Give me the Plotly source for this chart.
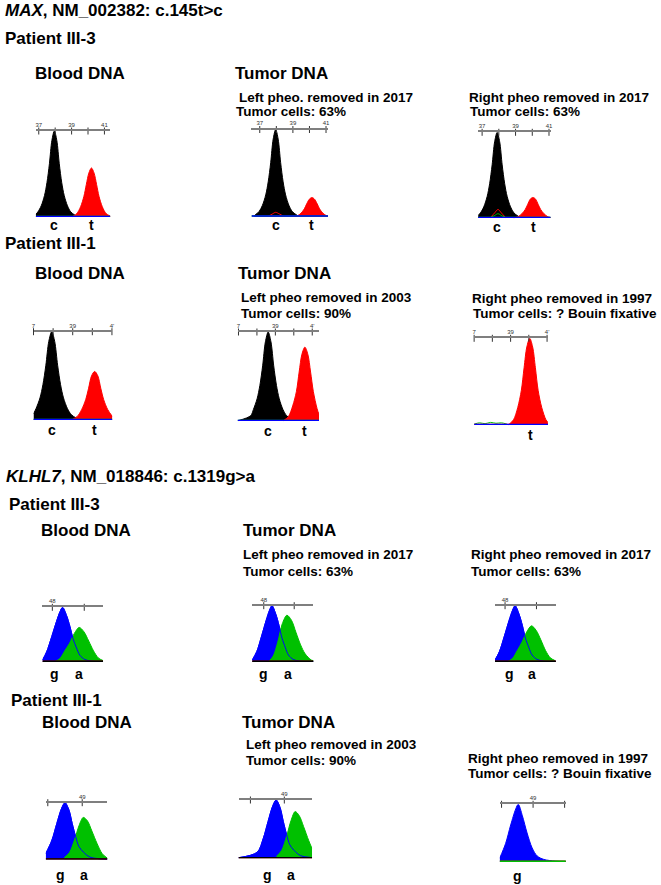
import plotly.graph_objects as go

W, H = 661, 885
FONT = "Liberation Sans, Arial, sans-serif"
BLACK, RED, BLUE, GREEN = "#000000", "#ff0000", "#0000ff", "#00c000"
BASE_LEVEL = 0.8

# ---------------- MAX, NM_002382: c.145t>c ----------------
MAX_TICKS = [37, 38, 39, 40, 41]
MAX_TICKTEXT = ["37", "", "39", "", "41"]
MAX_TICKTEXT_CUT = ["7", "", "39", "", "4'"]
MAX_CALLS = ["c", "t"]

# patient III-3, blood
M1_BLACK_X = [36.82, 36.95, 37.15, 37.35, 37.5, 37.65, 37.8, 37.95, 38.1, 38.25, 38.4, 38.55, 38.75, 38.95, 39.25]
M1_BLACK_Y = [3, 6, 13, 25, 40, 62, 89, 100, 89, 62, 40, 25, 13, 6, 1.5]
M1_RED_X = [39.06, 39.32, 39.55, 39.75, 39.9, 40.05, 40.21, 40.37, 40.52, 40.67, 40.87, 41.1, 41.36]
M1_RED_Y = [0.5, 4, 12, 24, 38, 51, 57, 51, 38, 24, 12, 4, 1]
M1_CALL_X = [37.95, 40.21]

# patient III-3, left pheo 2017
M2_BLACK_X = [36.66, 36.96, 37.16, 37.36, 37.51, 37.66, 37.81, 37.96, 38.11, 38.26, 38.41, 38.56, 38.76, 38.96, 39.26]
M2_BLACK_Y = [1, 6, 13, 25, 40, 62, 89, 100, 89, 62, 40, 25, 13, 6, 1.5]
M2_RED_X = [39.0, 39.26, 39.49, 39.69, 39.84, 39.99, 40.15, 40.31, 40.46, 40.61, 40.81, 41.04, 41.12]
M2_RED_Y = [0.3, 1, 4, 9, 15, 20, 22, 20, 15, 9, 4, 1, 0.5]
M2_RED_BUMP_X = [37.5, 37.75, 37.96, 38.2, 38.45]
M2_RED_BUMP_Y = [0.5, 3, 5, 3, 0.5]
M2_CALL_X = [37.96, 40.15]

# patient III-3, right pheo 2017
M3_BLACK_X = [36.76, 36.9, 37.1, 37.3, 37.45, 37.6, 37.75, 37.9, 38.05, 38.2, 38.35, 38.5, 38.7, 38.9, 39.2]
M3_BLACK_Y = [3, 6, 13, 25, 40, 62, 89, 100, 89, 62, 40, 25, 13, 6, 1.5]
M3_RED_X = [38.89, 39.15, 39.38, 39.58, 39.73, 39.88, 40.04, 40.2, 40.35, 40.5, 40.7, 40.93, 41.1]
M3_RED_Y = [0.3, 1.5, 5, 10, 16, 22, 24, 22, 16, 10, 5, 1.5, 0.5]
M3_RED_BUMP_X = [37.5, 37.75, 37.95, 38.15, 38.4]
M3_RED_BUMP_Y = [0.5, 6, 10, 6, 0.5]
M3_GREEN_BUMP_Y = [0.5, 3, 5, 3, 0.5]
M3_CALL_X = [37.9, 40.1]

# patient III-1, blood
M4_BLACK_X = [37.0, 37.13, 37.33, 37.48, 37.63, 37.78, 37.93, 38.08, 38.23, 38.38, 38.53, 38.73, 38.93, 39.23]
M4_BLACK_Y = [7, 13, 25, 40, 62, 89, 100, 89, 62, 40, 25, 13, 6, 1.5]
M4_RED_X = [38.97, 39.23, 39.46, 39.66, 39.81, 39.96, 40.12, 40.28, 40.43, 40.58, 40.78, 41.02]
M4_RED_Y = [0.5, 4, 12, 23, 36, 50, 55, 50, 36, 23, 12, 4]
M4_CALL_X = [37.93, 40.1]

# patient III-1, left pheo 2003
M5_BLACK_X = [37.0, 37.66, 37.81, 38.01, 38.16, 38.31, 38.46, 38.61, 38.76, 38.91, 39.06, 39.21, 39.41, 39.61, 39.91]
M5_BLACK_Y = [0.5, 6, 13, 25, 40, 62, 89, 100, 89, 62, 40, 25, 13, 6, 1.5]
M5_RED_X = [39.45, 39.71, 39.94, 40.14, 40.29, 40.44, 40.6, 40.76, 40.91, 41.06, 41.26, 41.37]
M5_RED_Y = [0.5, 5, 17, 33, 55, 75, 83, 75, 55, 33, 14, 7]
M5_CALL_X = [38.6, 40.6]

# patient III-1, right pheo 1997 (Bouin)
M6_RED_X = [38.9, 39.16, 39.39, 39.59, 39.74, 39.89, 40.05, 40.21, 40.36, 40.51, 40.71, 40.94, 41.05]
M6_RED_Y = [0.5, 6, 20, 40, 66, 90, 100, 90, 66, 40, 20, 6, 3]
M6_NOISE_X = [37.0, 37.3, 37.6, 37.9, 38.2, 38.5, 38.8]
M6_NOISE_Y = [1, 2.5, 1.5, 3, 2, 2.5, 1]
M6_CALL_X = [40.1]

# ---------------- KLHL7, NM_018846: c.1319g>a ----------------
KLHL_TICKS_A = [48, 49]
KLHL_TICKTEXT_A = ["48", ""]
KLHL_TICKS_B = [48, 49, 50]
KLHL_TICKTEXT_B = ["", "49", ""]
KLHL_CALLS = ["g", "a"]

# patient III-3, blood
K1_BLUE_X = [47.69, 47.82, 47.98, 48.13, 48.24, 48.32, 48.445, 48.55, 48.65, 48.76, 48.86, 49.02, 49.23, 49.59]
K1_BLUE_Y = [3, 18, 46, 74, 92, 100, 85, 65, 42, 25, 12, 4, 1, 0.5]
K1_GREEN_X = [48.09, 48.24, 48.39, 48.54, 48.69, 48.84, 48.99, 49.14, 49.29, 49.44, 49.59]
K1_GREEN_Y = [0.5, 6, 20, 34, 52, 63, 55, 38, 20, 7, 2]
K1_CALL_X = [48.08, 48.83]

# patient III-3, left pheo 2017
K2_BLUE_X = [47.62, 47.77, 47.93, 48.08, 48.19, 48.27, 48.395, 48.5, 48.6, 48.71, 48.81, 48.97, 49.18, 49.63]
K2_BLUE_Y = [3, 18, 46, 74, 92, 100, 85, 65, 42, 25, 12, 4, 1, 0.5]
K2_GREEN_X = [48.16, 48.31, 48.46, 48.61, 48.76, 48.91, 49.06, 49.21, 49.36, 49.56, 49.63]
K2_GREEN_Y = [0.5, 10, 35, 68, 83, 74, 52, 30, 14, 3, 2]
K2_CALL_X = [48.0, 48.8]

# patient III-3, right pheo 2017
K3_BLUE_X = [47.68, 47.82, 47.98, 48.13, 48.24, 48.32, 48.445, 48.55, 48.65, 48.76, 48.86, 49.02, 49.23, 49.62]
K3_BLUE_Y = [3, 18, 46, 74, 92, 100, 85, 65, 42, 25, 12, 4, 1, 0.5]
K3_GREEN_X = [48.09, 48.24, 48.39, 48.54, 48.69, 48.84, 48.99, 49.14, 49.29, 49.44, 49.59]
K3_GREEN_Y = [0.5, 6, 20, 35, 53, 64, 56, 39, 20, 7, 2]
K3_CALL_X = [48.15, 48.86]

# patient III-1, blood
K4_BLUE_X = [47.94, 48.12, 48.26, 48.4, 48.5, 48.615, 48.71, 48.81, 48.9, 49.03, 49.22, 49.5, 49.73]
K4_BLUE_Y = [10, 34, 63, 90, 100, 87, 63, 40, 23, 13, 4, 1, 0.5]
K4_GREEN_X = [48.48, 48.63, 48.78, 48.91, 49.03, 49.15, 49.28, 49.43, 49.58, 49.73]
K4_GREEN_Y = [3, 12, 35, 60, 74, 68, 50, 28, 10, 2]
K4_CALL_X = [48.37, 49.04]

# patient III-1, left pheo 2003
K5_BLUE_X = [47.65, 48.2, 48.38, 48.52, 48.66, 48.76, 48.875, 48.97, 49.07, 49.16, 49.29, 49.48, 49.76]
K5_BLUE_Y = [0.5, 10, 34, 63, 90, 100, 87, 63, 40, 23, 13, 4, 1]
K5_GREEN_X = [48.77, 48.92, 49.07, 49.2, 49.32, 49.44, 49.57, 49.72, 49.82]
K5_GREEN_Y = [3, 13, 38, 65, 80, 73, 54, 30, 16]
K5_CALL_X = [48.5, 49.2]

# patient III-1, right pheo 1997 (Bouin)
K6_BLUE_X = [47.94, 48.13, 48.29, 48.45, 48.53, 48.66, 48.81, 48.97, 49.13, 49.34, 49.71, 50.04]
K6_BLUE_Y = [6, 32, 64, 92, 100, 80, 50, 24, 10, 4, 1, 0.5]
K6_CALL_X = [48.52]

# ---------------- panel layout (pixel boxes: left, right, axis line y, baseline y) ----------------
PANELS = [
    dict(box=(34, 109, 131, 217), xr=(36.82, 41.36), ticks=MAX_TICKS, tt=MAX_TICKTEXT,
         fills=[(M1_BLACK_X, M1_BLACK_Y, BLACK), (M1_RED_X, M1_RED_Y, RED)], lines=[],
         calls=MAX_CALLS, call_x=M1_CALL_X, call_y=225, base=[GREEN, BLUE]),
    dict(box=(251, 328, 129.5, 216.7), xr=(36.5, 41.12), ticks=MAX_TICKS, tt=MAX_TICKTEXT,
         fills=[(M2_BLACK_X, M2_BLACK_Y, BLACK), (M2_RED_X, M2_RED_Y, RED)],
         lines=[(M2_RED_BUMP_X, M2_RED_BUMP_Y, RED)],
         calls=MAX_CALLS, call_x=M2_CALL_X, call_y=225, base=[GREEN, BLUE]),
    dict(box=(479, 552, 132.3, 218), xr=(36.76, 41.1), ticks=MAX_TICKS, tt=MAX_TICKTEXT,
         fills=[(M3_BLACK_X, M3_BLACK_Y, BLACK), (M3_RED_X, M3_RED_Y, RED)],
         lines=[(M3_RED_BUMP_X, M3_RED_BUMP_Y, RED), (M3_RED_BUMP_X, M3_GREEN_BUMP_Y, GREEN)],
         calls=MAX_CALLS, call_x=M3_CALL_X, call_y=227, base=[GREEN, BLUE]),
    dict(box=(31.7, 111, 331.7, 420), xr=(37.0, 41.02), ticks=MAX_TICKS, tt=MAX_TICKTEXT_CUT,
         fills=[(M4_BLACK_X, M4_BLACK_Y, BLACK), (M4_RED_X, M4_RED_Y, RED)], lines=[],
         calls=MAX_CALLS, call_x=M4_CALL_X, call_y=430, base=[GREEN, BLUE]),
    dict(box=(237, 319, 332, 421), xr=(36.95, 41.37), ticks=MAX_TICKS, tt=MAX_TICKTEXT_CUT,
         fills=[(M5_BLACK_X, M5_BLACK_Y, BLACK), (M5_RED_X, M5_RED_Y, RED)], lines=[],
         calls=MAX_CALLS, call_x=M5_CALL_X, call_y=431, base=[GREEN, BLUE]),
    dict(box=(475, 549.3, 338.3, 425), xr=(37.0, 41.05), ticks=MAX_TICKS, tt=MAX_TICKTEXT_CUT,
         fills=[(M6_RED_X, M6_RED_Y, RED)],
         lines=[(M6_NOISE_X, M6_NOISE_Y, GREEN)],
         calls=["t"], call_x=M6_CALL_X, call_y=435, base=[RED, BLUE]),
    dict(box=(40.7, 101.7, 607.3, 661.7), xr=(47.69, 49.59), ticks=KLHL_TICKS_A, tt=KLHL_TICKTEXT_A,
         fills=[(K1_BLUE_X, K1_BLUE_Y, BLUE), (K1_GREEN_X, K1_GREEN_Y, GREEN)],
         lines=[(K1_BLUE_X, K1_BLUE_Y, BLUE)],
         calls=KLHL_CALLS, call_x=K1_CALL_X, call_y=674, base=["#b00000", BLACK]),
    dict(box=(251.7, 313.3, 605.7, 661.7), xr=(47.62, 49.63), ticks=KLHL_TICKS_A, tt=KLHL_TICKTEXT_A,
         fills=[(K2_BLUE_X, K2_BLUE_Y, BLUE), (K2_GREEN_X, K2_GREEN_Y, GREEN)],
         lines=[(K2_BLUE_X, K2_BLUE_Y, BLUE)],
         calls=KLHL_CALLS, call_x=K2_CALL_X, call_y=674, base=["#b00000", BLACK]),
    dict(box=(496, 557.3, 605.7, 661.7), xr=(47.68, 49.62), ticks=KLHL_TICKS_A, tt=KLHL_TICKTEXT_A,
         fills=[(K3_BLUE_X, K3_BLUE_Y, BLUE), (K3_GREEN_X, K3_GREEN_Y, GREEN)],
         lines=[(K3_BLUE_X, K3_BLUE_Y, BLUE)],
         calls=KLHL_CALLS, call_x=K3_CALL_X, call_y=674, base=["#b00000", BLACK]),
    dict(box=(44, 106, 802.7, 859.3), xr=(47.94, 49.73), ticks=KLHL_TICKS_B, tt=KLHL_TICKTEXT_B,
         fills=[(K4_BLUE_X, K4_BLUE_Y, BLUE), (K4_GREEN_X, K4_GREEN_Y, GREEN)],
         lines=[(K4_BLUE_X, K4_BLUE_Y, BLUE)],
         calls=KLHL_CALLS, call_x=K4_CALL_X, call_y=875, base=["#b00000", BLACK]),
    dict(box=(238, 312, 800, 858), xr=(47.65, 49.82), ticks=KLHL_TICKS_B, tt=KLHL_TICKTEXT_B,
         fills=[(K5_BLUE_X, K5_BLUE_Y, BLUE), (K5_GREEN_X, K5_GREEN_Y, GREEN)],
         lines=[(K5_BLUE_X, K5_BLUE_Y, BLUE)],
         calls=KLHL_CALLS, call_x=K5_CALL_X, call_y=875, base=["#b00000", BLACK]),
    dict(box=(500.7, 567.3, 804.3, 861.7), xr=(47.94, 50.04), ticks=KLHL_TICKS_B, tt=KLHL_TICKTEXT_B,
         fills=[(K6_BLUE_X, K6_BLUE_Y, BLUE)], lines=[],
         calls=["g"], call_x=K6_CALL_X, call_y=876, base=["#b00000", GREEN]),
]

# headings: text, left x px, centre y px, font size
HEADINGS = [
    ("<i>MAX</i>, NM_002382: c.145t>c", 2, 10, 17),
    ("Patient III-3", 2, 38.5, 17),
    ("Blood DNA", 32, 73.5, 17),
    ("Tumor DNA", 233, 73.5, 17),
    ("Left pheo. removed in 2017", 237, 97.5, 13.5),
    ("Tumor cells: 63%", 234, 112, 13.5),
    ("Right pheo removed in 2017", 469, 97.5, 13.5),
    ("Tumor cells: 63%", 470, 112, 13.5),
    ("Patient III-1", 2, 243, 17),
    ("Blood DNA", 32, 273, 17),
    ("Tumor DNA", 236, 273, 17),
    ("Left pheo removed in 2003", 239, 297, 13.5),
    ("Tumor cells: 90%", 239, 313, 13.5),
    ("Right pheo removed in 1997", 472, 298, 13.5),
    ("Tumor cells: ? Bouin fixative", 473, 313.5, 13.5),
    ("<i>KLHL7</i>, NM_018846: c.1319g>a", 3, 476.5, 17),
    ("Patient III-3", 6, 504, 17),
    ("Blood DNA", 38, 530, 17),
    ("Tumor DNA", 241, 530, 17),
    ("Left pheo removed in 2017", 241, 554, 13.5),
    ("Tumor cells: 63%", 241, 571, 13.5),
    ("Right pheo removed in 2017", 471, 554, 13.5),
    ("Tumor cells: 63%", 471, 571, 13.5),
    ("Patient III-1", 8, 700, 17),
    ("Blood DNA", 39, 722, 17),
    ("Tumor DNA", 240, 722, 17),
    ("Left pheo removed in 2003", 244, 744, 13.5),
    ("Tumor cells: 90%", 244, 760, 13.5),
    ("Right pheo removed in 1997", 468, 758, 13.5),
    ("Tumor cells: ? Bouin fixative", 468, 773, 13.5),
]

fig = go.Figure()
annotations = []
layout_axes = {}

for n, p in enumerate(PANELS, start=1):
    suffix = "" if n == 1 else str(n)
    xa, ya = "x" + suffix, "y" + suffix
    x0, x1, top, base = p["box"]
    pad = 3
    ymin = -pad * 100.0 / (base - top)

    for xs, ys, col in p["fills"]:
        fig.add_trace(go.Scatter(
            x=xs, y=ys, xaxis=xa, yaxis=ya, mode="lines",
            line=dict(color=col, width=1, shape="spline", smoothing=0.9),
            fill="tozeroy", fillcolor=col, hoverinfo="skip", showlegend=False))
    for xs, ys, col in p["lines"]:
        fig.add_trace(go.Scatter(
            x=xs, y=ys, xaxis=xa, yaxis=ya, mode="lines",
            line=dict(color=col, width=1, shape="spline", smoothing=0.9),
            hoverinfo="skip", showlegend=False))
    # flat baselines of the quiet channels
    for col in p["base"]:
        fig.add_trace(go.Scatter(
            x=list(p["xr"]), y=[BASE_LEVEL, BASE_LEVEL], xaxis=xa, yaxis=ya, mode="lines",
            line=dict(color=col, width=1.3), hoverinfo="skip", showlegend=False))
    # tick marks crossing the scan axis
    fig.add_trace(go.Scatter(
        x=p["ticks"], y=[100] * len(p["ticks"]), xaxis=xa, yaxis=ya, mode="markers",
        marker=dict(symbol="line-ns", size=5, line=dict(width=1, color="#333333")),
        cliponaxis=False, hoverinfo="skip", showlegend=False))

    layout_axes["xaxis" + suffix] = dict(
        domain=[x0 / W, x1 / W], range=list(p["xr"]), anchor=ya, side="top",
        showline=True, linecolor="#7f7f7f", linewidth=1.5, showgrid=False, zeroline=False,
        tickmode="array", tickvals=p["ticks"], ticktext=p["tt"], ticks="",
        tickfont=dict(family=FONT, size=6, color="#333333"), fixedrange=True)
    layout_axes["yaxis" + suffix] = dict(
        domain=[1 - (base + pad) / H, 1 - top / H], range=[ymin, 100], anchor=xa,
        visible=False, fixedrange=True)

    for lab, cx in zip(p["calls"], p["call_x"]):
        annotations.append(dict(
            text=lab, x=cx, xref=xa, y=1 - p["call_y"] / H, yref="paper",
            xanchor="center", yanchor="middle", showarrow=False, borderpad=0,
            font=dict(family=FONT, size=14, color="black", weight="bold")))

for txt, px, py, size in HEADINGS:
    annotations.append(dict(
        text=txt, x=px / W, xref="paper", y=1 - py / H, yref="paper",
        xanchor="left", yanchor="middle", showarrow=False, borderpad=0,
        font=dict(family=FONT, size=size, color="black", weight="bold")))

fig.update_layout(
    width=W, height=H, autosize=False,
    margin=dict(l=0, r=0, t=0, b=0),
    paper_bgcolor="white", plot_bgcolor="rgba(0,0,0,0)",
    showlegend=False, annotations=annotations, **layout_axes)

# the page body has a default margin; drop it so the figure sits at the window corner
fig.write_html("out.html", config={"displayModeBar": False},
               post_script="document.body.style.margin='0';")
